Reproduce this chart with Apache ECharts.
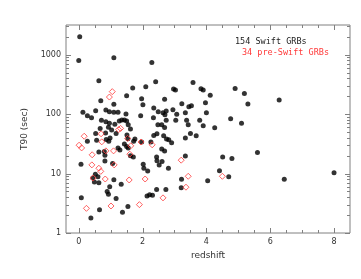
<!DOCTYPE html>
<html><head><meta charset="utf-8">
<script src="https://cdn.jsdelivr.net/npm/echarts@6/dist/echarts.min.js"></script>
<style>html,body{margin:0;padding:0;background:#fff}#c{width:361px;height:279px}</style>
</head><body><div id="c"></div>
<script>
// ---- data ----
const swiftZ = [
0.03,0.00,1.10,2.29,0.63,2.41,1.69,2.10,0.69,1.10,1.97,2.01,1.50,0.13,0.27,0.40,0.53,0.85,0.96,1.10,
1.23,0.71,0.85,0.96,1.13,1.27,1.35,1.43,1.50,1.55,1.62,1.48,1.94,2.35,2.49,2.64,2.70,2.69,2.74,2.95,
3.07,2.74,2.48,2.60,2.34,0.67,0.93,1.03,0.53,0.84,1.17,1.51,1.76,2.35,2.45,2.66,2.75,2.69,2.97,3.03,
3.58,4.90,3.83,3.90,4.12,5.19,6.28,3.23,3.45,3.53,3.97,5.30,3.34,4.00,3.38,3.43,3.79,3.90,4.26,4.76,
5.10,3.50,3.68,3.34,3.04,0.27,0.94,1.23,1.29,1.43,1.50,1.55,1.62,1.71,1.72,0.63,0.80,0.82,0.82,0.07,
1.06,1.97,2.02,2.04,2.16,2.44,2.45,2.52,2.60,2.69,2.61,2.81,2.91,0.44,0.52,0.60,0.49,0.63,1.10,0.89,
0.97,0.93,1.33,1.17,0.08,0.65,0.38,1.37,1.54,2.14,2.22,2.31,2.44,2.73,0.56,0.86,0.98,3.34,4.51,4.80,
5.60,4.41,4.70,4.04,3.22,3.21,6.44,8.00,2.26,2.82,1.54];
const swiftT90 = [
2000,800,890,740,366,350,276,290,168,147,182,144,204,108,94,87,114,117,110,108,
108,79,74.5,70,67.5,77,80,80,77,66,56,101,94,127,110,106,98,178,113,119,
100,79,66,66,87,57.5,60,54,47.3,48,47.3,44.5,38,43.6,46.7,43.2,38,59.5,265,255,
340,270,268,255,207,223,173,150,133,138,156,148,106,106,79,66,79,64,59,84,
70,47.3,43.2,39.5,79,35,35,27,25,31.6,28.5,27,20,19,35,23,23.5,20.3,16.3,14.4,
14.8,34,14.4,12.3,11,19,16.4,14,26,24,16,12.3,33,8.4,9.7,8.8,7.2,7.0,7.9,5.0,
6.0,4.5,6.6,3.8,3.9,2.47,1.79,2.23,2.8,4.2,4.4,4.3,5.4,5.4,36.5,37.5,39.5,19.7,19,17.9,
22.6,11.2,8.8,7.6,8.0,5.8,8.0,10.3,34,37,38.5];
const preSwiftZ = [0.96,1.05,0.70,1.25,1.31,0.17,1.53,0.01,0.09,0.42,0.41,0.72,0.85,0.63,0.69,0.45,0.83,
1.11,1.09,1.60,1.63,1.58,1.95,2.30,2.08,1.90,1.01,0.24,2.64,3.21,3.43,3.36,4.50];
const preSwiftT90 = [194,239,46.7,55,57.5,42.5,39,30,27,20.7,14,34.2,24.1,12.3,10.9,8.4,8.1,
14,24.1,21.2,29.3,7.8,34,30.5,8.1,3.0,2.85,2.6,3.9,16.8,9.0,5.9,9.0];

const xMajorTicks = [0,2,4,6,8];
const xMinorTicks = [0.5,1,1.5,2.5,3,3.5,4.5,5,5.5,6.5,7,7.5];
const yMajorTicks = [1,10,100,1000];
const yMinorTicks = [2,3,4,5,6,7,8,9,20,30,40,50,60,70,80,90,200,300,400,500,600,700,800,900,2000,3000];

const xName = 'redshift';
const yName = 'T90 (sec)';
const legendSwift = '154 Swift GRBs';
const legendPre = '34 pre-Swift GRBs';

// ---- drawing ----
const AXIS = '#808080';
const TEXT = '#333';
const RED = '#ff3a3a';

function xTicks(len){
  return function(params, api){
    const cs = params.coordSys;
    const x = Math.round(api.coord([api.value(0), 10])[0]) + 0.5;
    const yb = cs.y + cs.height, yt = cs.y;
    return {type:'group', children:[
      {type:'line', shape:{x1:x,y1:yb,x2:x,y2:yb-len}, style:{stroke:AXIS,lineWidth:1}},
      {type:'line', shape:{x1:x,y1:yt,x2:x,y2:yt+len}, style:{stroke:AXIS,lineWidth:1}}
    ]};
  };
}
function yTicks(len){
  return function(params, api){
    const cs = params.coordSys;
    const y = Math.round(api.coord([0, api.value(1)])[1]) + 0.5;
    const xl = cs.x, xr = cs.x + cs.width;
    return {type:'group', children:[
      {type:'line', shape:{x1:xl,y1:y,x2:xl+len,y2:y}, style:{stroke:AXIS,lineWidth:1}},
      {type:'line', shape:{x1:xr,y1:y,x2:xr-len,y2:y}, style:{stroke:AXIS,lineWidth:1}}
    ]};
  };
}

const chart = echarts.init(document.getElementById('c'), null, {renderer:'canvas'});
const isPow10 = v => Math.abs(Math.log10(v) - Math.round(Math.log10(v))) < 1e-6;
chart.setOption({
  animation:false,
  backgroundColor:'#fff',
  textStyle:{fontFamily:'DejaVu Sans'},
  grid:{left:66, top:25, right:11, bottom:46, show:true, borderColor:AXIS, borderWidth:1, backgroundColor:'transparent'},
  xAxis:{type:'value', min:-0.4, max:8.5, splitNumber:5,
    axisLine:{show:false}, axisTick:{show:false}, splitLine:{show:false},
    axisLabel:{color:TEXT, fontSize:8, margin:5, fontFamily:'DejaVu Sans',
      formatter: v => xMajorTicks.includes(v) ? String(v) : ''},
    name:xName, nameLocation:'middle', nameGap:17,
    nameTextStyle:{color:TEXT, fontSize:9, fontFamily:'DejaVu Sans'}},
  yAxis:{type:'log', logBase:10, min:1, max:3162.2777,
    axisLine:{show:false}, axisTick:{show:false}, splitLine:{show:false},
    axisLabel:{color:TEXT, fontSize:8, margin:5, fontFamily:'DejaVu Sans',
      formatter: v => isPow10(v) ? String(Math.round(v)) : ''},
    name:yName, nameLocation:'middle', nameGap:37,
    nameTextStyle:{color:TEXT, fontSize:9, fontFamily:'DejaVu Sans'}},
  graphic:[
    {type:'text', left:235, top:37, style:{text:legendSwift, fill:'#222', font:'8.5px "DejaVu Sans Mono"'}},
    {type:'text', left:242, top:48, style:{text:legendPre, fill:RED, font:'8.5px "DejaVu Sans Mono"'}}
  ],
  series:[
    {type:'custom', renderItem:xTicks(5), data:xMajorTicks.map(v=>[v,10]), silent:true, z:5},
    {type:'custom', renderItem:xTicks(3), data:xMinorTicks.map(v=>[v,10]), silent:true, z:5},
    {type:'custom', renderItem:yTicks(5), data:yMajorTicks.map(v=>[0,v]), silent:true, z:5},
    {type:'custom', renderItem:yTicks(3), data:yMinorTicks.map(v=>[0,v]), silent:true, z:5},
    {type:'scatter', name:'Swift', symbol:'circle', symbolSize:5,
      itemStyle:{color:'#000'}, data:swiftZ.map((z,i)=>[z, swiftT90[i]]), z:3},
    {type:'scatter', name:'pre-Swift', symbol:'diamond', symbolSize:6,
      itemStyle:{color:'rgba(0,0,0,0)', borderColor:RED, borderWidth:1},
      data:preSwiftZ.map((z,i)=>[z, preSwiftT90[i]]), z:4}
  ]
});
</script>
</body></html>
